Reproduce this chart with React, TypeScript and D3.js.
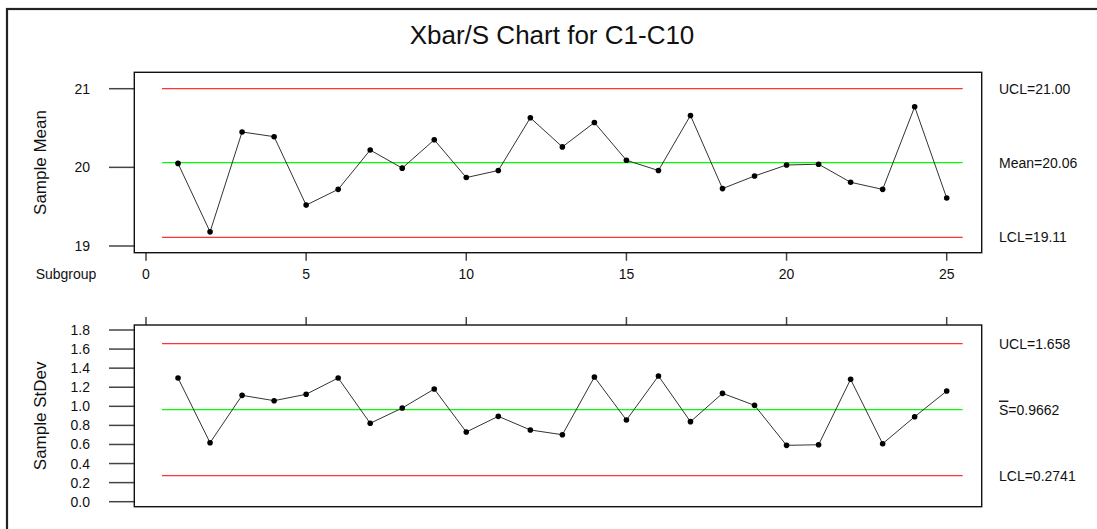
import React from "react";
import * as d3 from "d3";

const subgroups = d3.range(1, 26);
const sampleMeans = [
  20.05, 19.18, 20.45, 20.39, 19.52, 19.72, 20.22, 19.99, 20.35, 19.87,
  19.96, 20.63, 20.26, 20.57, 20.09, 19.96, 20.66, 19.73, 19.89, 20.03,
  20.04, 19.81, 19.72, 20.77, 19.61
];
const sampleSds = [
  1.297, 0.618, 1.115, 1.059, 1.126, 1.297, 0.822, 0.982, 1.181, 0.731,
  0.895, 0.752, 0.702, 1.307, 0.856, 1.318, 0.839, 1.136, 1.01, 0.591,
  0.597, 1.283, 0.608, 0.891, 1.16
];
const meanLimits = { ucl: 21.0, center: 20.06, lcl: 19.11 };
const sdLimits = { ucl: 1.658, center: 0.9662, lcl: 0.2741 };
const xTicks = [0, 5, 10, 15, 20, 25];
const meanTicks = [19, 20, 21];
const sdTicks = [0, 0.2, 0.4, 0.6, 0.8, 1.0, 1.2, 1.4, 1.6, 1.8];

const font = "'Liberation Sans', Arial, sans-serif";
const boxLeft = 134.3;
const boxRight = 981.7;
const labelX = 999;

const x = d3.scaleLinear().domain([0, 25]).range([146, 946.7]);
const yMean = d3.scaleLinear().domain([19, 21]).range([246, 88.7]);
const ySd = d3.scaleLinear().domain([0, 1.8]).range([501.7, 330]);

type PanelProps = {
  values: number[];
  y: d3.ScaleLinear<number, number>;
  ticks: number[];
  tickFmt: (v: number) => string;
  top: number;
  bottom: number;
  limits: { ucl: number; center: number; lcl: number };
  title: string;
  centerLabel: React.ReactNode;
  uclLabel: string;
  lclLabel: string;
  xLabelsBelow: boolean;
};

const Panel = (p: PanelProps) => {
  const line = d3
    .line<number>()
    .x((_, i) => x(subgroups[i]))
    .y(d => p.y(d));
  const lx1 = x(0.5);
  const lx2 = x(25.5);
  const midY = (p.top + p.bottom) / 2;
  const ctrl = [
    { v: p.limits.ucl, c: "#ff3333", label: p.uclLabel },
    { v: p.limits.center, c: "#00ff00", label: p.centerLabel },
    { v: p.limits.lcl, c: "#ff3333", label: p.lclLabel }
  ];
  return (
    <g>
      {/* y ticks */}
      {p.ticks.map(t => (
        <g key={t}>
          <line x1={109} x2={boxLeft} y1={p.y(t)} y2={p.y(t)} stroke="#444" strokeWidth={1.5} />
          <text x={90} y={p.y(t) + 5} textAnchor="end" fontSize={14} fill="#111">
            {p.tickFmt(t)}
          </text>
        </g>
      ))}
      <text
        transform={`translate(46,${midY}) rotate(-90)`}
        textAnchor="middle"
        fontSize={17}
        fill="#111"
      >
        {p.title}
      </text>
      {/* x ticks */}
      {xTicks.map(t => (
        <g key={t}>
          {p.xLabelsBelow ? (
            <>
              <line x1={x(t)} x2={x(t)} y1={p.bottom} y2={p.bottom + 8} stroke="#444" strokeWidth={1.5} />
              <text x={x(t)} y={p.bottom + 26} textAnchor="middle" fontSize={14} fill="#111">
                {t}
              </text>
            </>
          ) : (
            <line x1={x(t)} x2={x(t)} y1={p.top - 8} y2={p.top} stroke="#444" strokeWidth={1.5} />
          )}
        </g>
      ))}
      {p.xLabelsBelow && (
        <text x={66} y={p.bottom + 26} textAnchor="middle" fontSize={14} fill="#111">
          Subgroup
        </text>
      )}
      {/* control lines */}
      {ctrl.map((c, i) => (
        <g key={i}>
          <line x1={lx1} x2={lx2} y1={p.y(c.v)} y2={p.y(c.v)} stroke={c.c} strokeWidth={1.3} />
          <text x={labelX} y={p.y(c.v) + 5} fontSize={14} fill="#111">
            {c.label}
          </text>
        </g>
      ))}
      <path d={line(p.values) || ""} fill="none" stroke="#333" strokeWidth={1} />
      {p.values.map((v, i) => (
        <circle key={i} cx={x(subgroups[i])} cy={p.y(v)} r={2.8} fill="#000" />
      ))}
      <rect
        x={boxLeft}
        y={p.top}
        width={boxRight - boxLeft}
        height={p.bottom - p.top}
        fill="none"
        stroke="#111"
        strokeWidth={1.4}
      />
    </g>
  );
};

const App = () => {
  return (
    <div style={{ position: "absolute", left: 0, top: 0 }}>
      <svg width={1097} height={529} style={{ display: "block", fontFamily: font }}>
        <rect x={0} y={0} width={1097} height={529} fill="#fff" />
        <rect x={7} y={9} width={1200} height={600} fill="none" stroke="#222" strokeWidth={2.2} />
        <text x={552} y={44.3} textAnchor="middle" fontSize={26} fill="#111">
          Xbar/S Chart for C1-C10
        </text>
        <Panel
          values={sampleMeans}
          y={yMean}
          ticks={meanTicks}
          tickFmt={v => String(v)}
          top={72.3}
          bottom={252.7}
          limits={meanLimits}
          title="Sample Mean"
          uclLabel={`UCL=${meanLimits.ucl.toFixed(2)}`}
          centerLabel={`Mean=${meanLimits.center.toFixed(2)}`}
          lclLabel={`LCL=${meanLimits.lcl.toFixed(2)}`}
          xLabelsBelow={true}
        />
        <Panel
          values={sampleSds}
          y={ySd}
          ticks={sdTicks}
          tickFmt={v => v.toFixed(1)}
          top={325}
          bottom={506.7}
          limits={sdLimits}
          title="Sample StDev"
          uclLabel={`UCL=${sdLimits.ucl}`}
          centerLabel={
            <>
              <tspan style={{ textDecoration: "overline" }}>S</tspan>
              {`=${sdLimits.center}`}
            </>
          }
          lclLabel={`LCL=${sdLimits.lcl}`}
          xLabelsBelow={false}
        />
      </svg>
    </div>
  );
};

export default App;
